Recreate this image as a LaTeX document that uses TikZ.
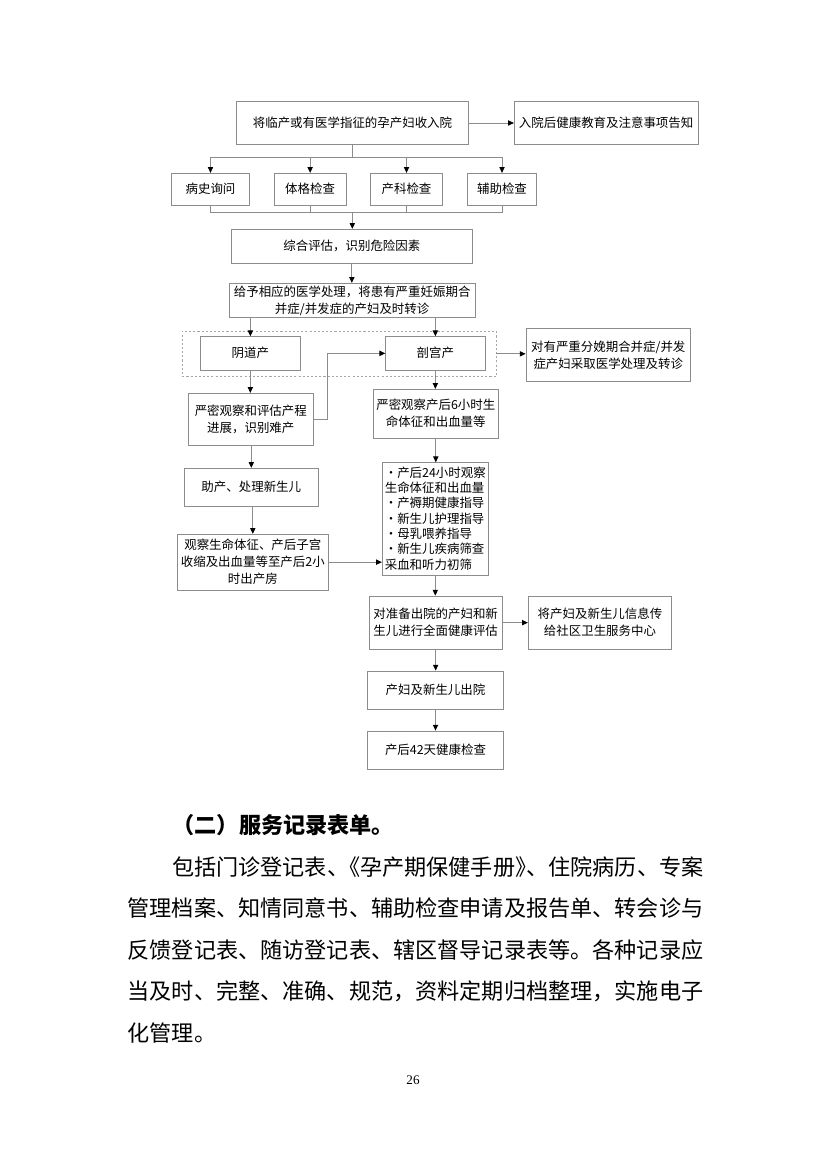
\documentclass[tikz,border=0pt]{standalone}
\usepackage{fontspec}
\setmainfont{Liberation Serif}
\newfontfamily\cjk{Noto Sans CJK SC}
\usetikzlibrary{arrows.meta,fit,calc}
\newcommand\boxfont{\cjk\fontsize{9pt}{12.3pt}\selectfont}
\newcommand\listfont{\cjk\fontsize{9pt}{11.1pt}\selectfont}
\newcommand\bodyfont{\cjk\fontsize{16pt}{16pt}\selectfont}
\newcommand\tc[1]{\begin{tabular}{@{}c@{}}#1\end{tabular}}
\newcommand\tlft[1]{\begin{tabular}{@{}l@{}}#1\end{tabular}}
\tikzset{
  box/.style={draw=black!45, line width=0.6pt, inner sep=0pt},
  txt/.style={inner sep=0pt, font=\boxfont, yshift=-0.9pt},
  conn/.style={draw=black!45, line width=0.6pt},
  arr/.style={conn, -{Triangle[length=4.2pt,width=3.8pt,color=black]}},
  dashbox/.style={draw=black!35, line width=0.6pt, dash pattern=on 1.5pt off 1.5pt, inner sep=0pt},
  bodyline/.style={inner sep=0pt, anchor=west, font=\bodyfont},
}
\begin{document}
\begin{tikzpicture}[x=0.254mm, y=-0.254mm]
\fill[white] (0,0) rectangle (827,1170);
\useasboundingbox (0,0) rectangle (827,1170);

% frames
\node[box, fit={(236.7,101.7) (468.3,144.3)}] (b1) {};
\node[box, fit={(514.3,101.7) (698,144.3)}] (b2) {};
\node[box, fit={(171.7,173.3) (249.3,205)}] (c1) {};
\node[box, fit={(274.3,173.3) (346,205)}] (c2) {};
\node[box, fit={(370.7,173.3) (442.3,205)}] (c3) {};
\node[box, fit={(467.3,173.3) (536.7,205)}] (c4) {};
\node[box, fit={(231,229.3) (472.7,263.3)}] (b3) {};
\node[box, fit={(229.3,283.3) (475,317.3)}] (b4) {};
\node[dashbox, fit={(182.3,331) (496,376.7)}] (dz) {};
\node[box, fit={(200.7,336.7) (300,370)}] (b5) {};
\node[box, fit={(385.7,336.7) (485,370)}] (b6) {};
\node[box, fit={(526,328.3) (690.5,381.7)}] (b7) {};
\node[box, fit={(188.3,393.3) (313.3,445.7)}] (b8) {};
\node[box, fit={(184.3,468.3) (318.3,506)}] (b10) {};
\node[box, fit={(177.3,534.3) (328.3,590)}] (b11) {};
\node[box, fit={(373.3,389.3) (498.3,438.3)}] (b9) {};
\node[box, fit={(382.3,462.7) (488.3,575)}] (b12) {};
\node[box, fit={(369,596) (502.3,649.3)}] (b13) {};
\node[box, fit={(528.3,596) (671.7,649.3)}] (b14) {};
\node[box, fit={(367.7,671) (503.3,709.3)}] (b15) {};
\node[box, fit={(367.7,731) (503.3,769.3)}] (b16) {};

% texts
\node[txt] (b1t) at (b1.center) {\tc{将临产或有医学指征的孕产妇收入院}};
\node[txt] (b2t) at (b2.center) {\tc{入院后健康教育及注意事项告知}};
\node[txt] (c1t) at (c1.center) {\tc{病史询问}};
\node[txt] (c2t) at (c2.center) {\tc{体格检查}};
\node[txt] (c3t) at (c3.center) {\tc{产科检查}};
\node[txt] (c4t) at (c4.center) {\tc{辅助检查}};
\node[txt] (b3t) at (b3.center) {\tc{综合评估，识别危险因素}};
\node[txt] (b4t) at (b4.center) {\tc{给予相应的医学处理，将患有严重妊娠期合\\并症/并发症的产妇及时转诊}};
\node[txt] (b5t) at (b5.center) {\tc{阴道产}};
\node[txt] (b6t) at (b6.center) {\tc{剖宫产}};
\node[txt] (b7t) at (b7.center) {\tc{对有严重分娩期合并症/并发\\症产妇采取医学处理及转诊}};
\node[txt] (b8t) at (b8.center) {\tc{严密观察和评估产程\\进展，识别难产}};
\node[txt] (b10t) at (b10.center) {\tc{助产、处理新生儿}};
\node[txt] (b11t) at (b11.center) {\tc{观察生命体征、产后子宫\\收缩及出血量等至产后2小\\时出产房}};
\node[txt] (b9t) at (b9.center) {\tc{严密观察产后6小时生\\命体征和出血量等}};
\node[txt, font=\listfont] (b12t) at (b12.center) {\tlft{・产后24小时观察\\生命体征和出血量\\・产褥期健康指导\\・新生儿护理指导\\・母乳喂养指导\\・新生儿疾病筛查\\采血和听力初筛}};
\node[txt] (b13t) at (b13.center) {\tc{对准备出院的产妇和新\\生儿进行全面健康评估}};
\node[txt] (b14t) at (b14.center) {\tc{将产妇及新生儿信息传\\给社区卫生服务中心}};
\node[txt] (b15t) at (b15.center) {\tc{产妇及新生儿出院}};
\node[txt] (b16t) at (b16.center) {\tc{产后42天健康检查}};

% connectors
\draw[arr] (b1.east) -- (b2.west);
\coordinate (j1) at (352.5,157.7);
\draw[conn] (b1.south) -- (j1);
\foreach \n in {c1,c2,c3,c4} \draw[arr] (j1) -| (\n.north);
\coordinate (j2) at (352.3,212.3);
\foreach \n in {c1,c2,c3,c4} \draw[conn] (\n.south) |- (j2);
\draw[arr] (j2) -- (j2 |- b3.north);
\draw[arr] (b3.south) -- (b3.south |- b4.north);
\draw[arr] (b5.north |- b4.south) -- (b5.north);
\draw[arr] (b6.north |- b4.south) -- (b6.north);
\draw[arr] (dz.east) -- (dz.east -| b7.west);
\draw[arr] (b5.south) -- (b5.south |- b8.north);
\draw[arr] (b8.east) -- ++(13.4,0) |- (b6.west);
\draw[arr] (b6.south) -- (b6.south |- b9.north);
\draw[arr] (b10.north |- b8.south) -- (b10.north);
\draw[arr] (b11.north |- b10.south) -- (b11.north);
\draw[arr] (b9.south) -- (b9.south |- b12.north);
\draw[arr] (b11.east) -- (b11.east -| b12.west);
\draw[arr] (b12.south) -- (b12.south |- b13.north);
\draw[arr] (b13.east) -- (b13.east -| b14.west);
\draw[arr] (b13.south) -- (b13.south |- b15.north);
\draw[arr] (b15.south) -- (b15.south |- b16.north);

% text section
\node[bodyline, font=\bodyfont\bfseries] (h) at (172.4,825) {（二）服务记录表单。};
\node[bodyline] (t1) at (171.8,866.7) {包括门诊登记表、\kern-.5em《孕产期保健手册》\kern-.5em、住院病历、专案};
\node[bodyline] (t2) at (127.4,908.3) {管理档案、知情同意书、辅助检查申请及报告单、转会诊与};
\node[bodyline] (t3) at (127.4,949.9) {反馈登记表、随访登记表、辖区督导记录表等。各种记录应};
\node[bodyline] (t4) at (127.4,991.5) {当及时、完整、准确、规范，资料定期归档整理，实施电子};
\node[bodyline] (t5) at (127.4,1033.1) {化管理。};
\node[inner sep=0pt, font=\fontsize{9.5pt}{10pt}\selectfont] (pn) at (413,1080) {26};
\end{tikzpicture}
\end{document}
